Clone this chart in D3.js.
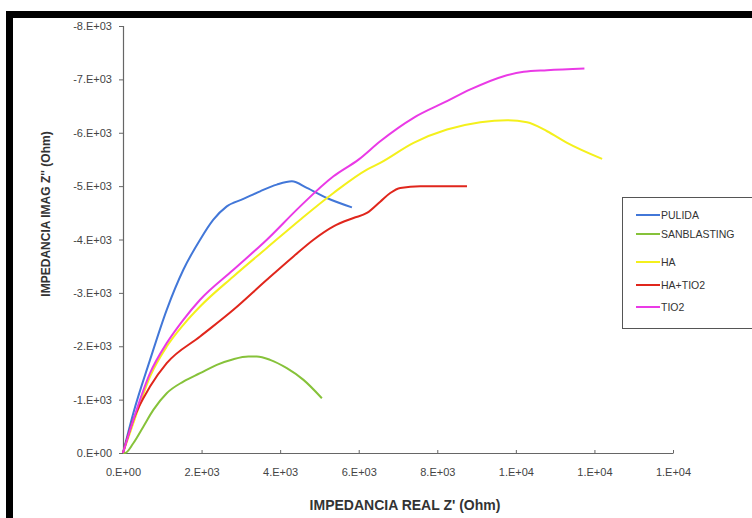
<!DOCTYPE html>
<html>
<head>
<meta charset="utf-8">
<script src="https://cdn.jsdelivr.net/npm/d3@7"></script>
<style>
  body { margin: 0; background: #fff; }
  text { font-family: "Liberation Sans", Arial, sans-serif; }
</style>
</head>
<body>
<script>
// series names and colours
const seriesNames = ["PULIDA", "SANBLASTING", "HA", "HA+TIO2", "TIO2"];
const seriesColors = ["#4277d8", "#86c23a", "#f4f01c", "#e0261c", "#ea3ae6"];

// Z' (real) and Z'' (imag), in Ohm
const pulidaRe = [0, 262, 688, 1113, 1536, 1962, 2300, 2642, 3065, 3490, 3915, 4298, 4680, 5190, 5827];
const pulidaIm = [0, -745, -1745, -2683, -3433, -3996, -4371, -4621, -4760, -4903, -5028, -5090, -4966, -4778, -4602];

const sanRe = [0, 51, 262, 517, 772, 1113, 1536, 1962, 2387, 2810, 3192, 3406, 3745, 4170, 4594, 5062];
const sanIm = [0, 0, -182, -493, -807, -1120, -1338, -1495, -1651, -1758, -1807, -1807, -1745, -1589, -1370, -1026];

const haRe = [0, 262, 688, 1113, 1536, 1962, 2810, 3661, 4510, 5358, 6209, 6548, 7396, 8247, 9096, 9776, 10285, 10795, 11304, 12196];
const haIm = [0, -557, -1432, -1994, -2402, -2745, -3308, -3841, -4371, -4872, -5310, -5435, -5811, -6060, -6197, -6235, -6197, -6028, -5811, -5510];

const haTiRe = [0, 262, 688, 1113, 1962, 2810, 3661, 4339, 4849, 5358, 5867, 6209, 6548, 6803, 7057, 7567, 8756];
const haTiIm = [0, -619, -1244, -1683, -2182, -2683, -3246, -3683, -3996, -4246, -4403, -4497, -4709, -4872, -4966, -4996, -4996];

const tiRe = [0, 262, 688, 1113, 1536, 1962, 2810, 3661, 4510, 5358, 5995, 6548, 7396, 8247, 8841, 9690, 10200, 10795, 11745];
const tiIm = [0, -619, -1495, -2058, -2495, -2871, -3433, -3996, -4621, -5184, -5497, -5841, -6280, -6591, -6811, -7060, -7143, -7173, -7205];

const xTicks = [0, 2000, 4000, 6000, 8000, 10000, 12000, 14000];
const yTicks = [0, -1000, -2000, -3000, -4000, -5000, -6000, -7000, -8000];

const series = [
    { re: pulidaRe, im: pulidaIm },
    { re: sanRe, im: sanIm },
    { re: haRe, im: haIm },
    { re: haTiRe, im: haTiIm },
    { re: tiRe, im: tiIm }
];

const W = 752, H = 518;
const plot = { left: 123, right: 673, top: 26, bottom: 453 };

// Excel style "0.E+00" labels
function sci(v) {
    if (v === 0) return "0.E+00";
    const s = v.toExponential(0).split("e");
    const e = parseInt(s[1]);
    return s[0] + ".E" + (e < 0 ? "-" : "+") + String(Math.abs(e)).padStart(2, "0");
}

const svg = d3.select("body").append("svg")
    .attr("width", W)
    .attr("height", H);

// outer black frame (right and bottom cut off)
svg.append("rect")
    .attr("x", 9.5).attr("y", 14.5)
    .attr("width", W + 20).attr("height", H + 20)
    .attr("fill", "#fff")
    .attr("stroke", "#000")
    .attr("stroke-width", 7);

const x = d3.scaleLinear()
    .domain([0, 14000])
    .range([plot.left, plot.right]);

const y = d3.scaleLinear()
    .domain([0, -8000])
    .range([plot.bottom, plot.top]);

const xAxis = d3.axisBottom(x)
    .tickValues(xTicks)
    .tickFormat(sci)
    .tickSizeInner(-3)
    .tickSizeOuter(0)
    .tickPadding(15);

const yAxis = d3.axisLeft(y)
    .tickValues(yTicks)
    .tickFormat(sci)
    .tickSize(4)
    .tickPadding(7);

const gx = svg.append("g")
    .attr("transform", "translate(0," + plot.bottom + ")")
    .call(xAxis);

const gy = svg.append("g")
    .attr("transform", "translate(" + plot.left + ",0)")
    .call(yAxis);

[gx, gy].forEach(function(g) {
    g.select(".domain").attr("stroke", "#666").attr("stroke-width", 1.2);
    g.selectAll(".tick line").attr("stroke", "#666");
    g.selectAll(".tick text")
        .attr("fill", "#444")
        .style("font-size", "11px");
});

svg.append("text")
    .attr("x", 405)
    .attr("y", 510)
    .style("text-anchor", "middle")
    .style("font-size", "14px")
    .style("font-weight", "bold")
    .attr("fill", "#333")
    .text("IMPEDANCIA REAL Z' (Ohm)");

svg.append("text")
    .attr("transform", "translate(50,214) rotate(-90)")
    .style("text-anchor", "middle")
    .style("font-size", "12px")
    .style("font-weight", "bold")
    .attr("fill", "#333")
    .text("IMPEDANCIA IMAG Z'' (Ohm)");

const line = d3.line()
    .x(function(d) { return x(d[0]); })
    .y(function(d) { return y(d[1]); })
    .curve(d3.curveMonotoneX);

series.forEach(function(s, i) {
    svg.append("path")
        .datum(s.re.map(function(r, j) { return [r, s.im[j]]; }))
        .attr("fill", "none")
        .attr("stroke", seriesColors[i])
        .attr("stroke-width", 2)
        .attr("d", line);
});

// legend
const legend = svg.append("g");
legend.append("rect")
    .attr("x", 622.5).attr("y", 197.5)
    .attr("width", 160).attr("height", 131)
    .attr("fill", "#fff")
    .attr("stroke", "#555");

const legendY = [215, 234, 262, 285, 307];
seriesNames.forEach(function(name, i) {
    legend.append("line")
        .attr("x1", 636).attr("x2", 660)
        .attr("y1", legendY[i]).attr("y2", legendY[i])
        .attr("stroke", seriesColors[i])
        .attr("stroke-width", 2);
    legend.append("text")
        .attr("x", 661)
        .attr("y", legendY[i] + 4)
        .style("font-size", "10.5px")
        .attr("fill", "#333")
        .text(name);
});
</script>
</body>
</html>
